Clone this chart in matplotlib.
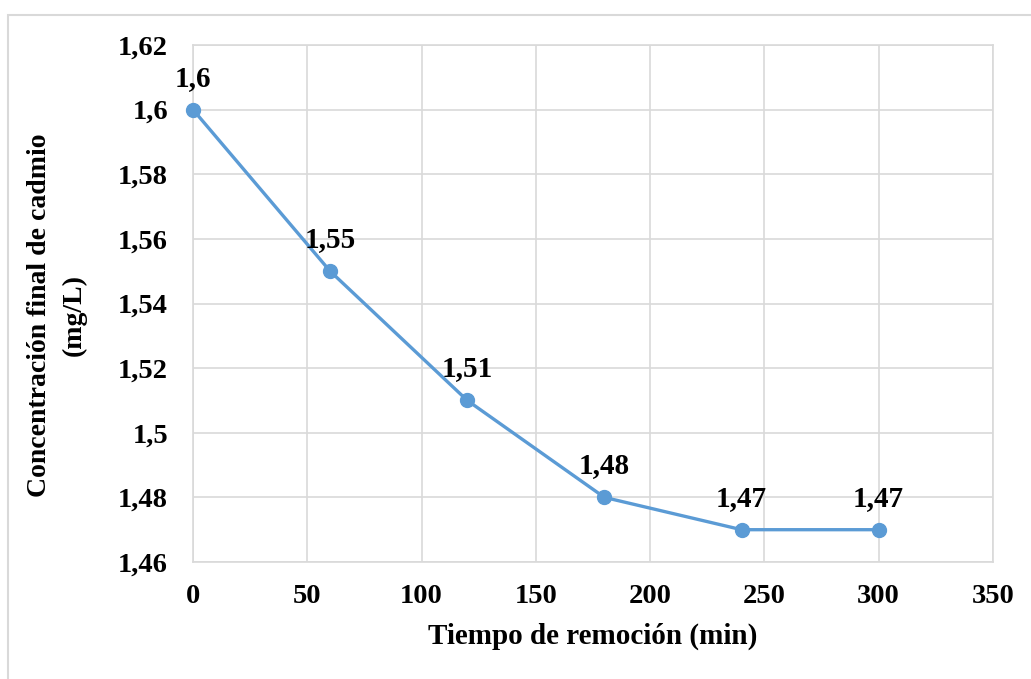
import matplotlib
matplotlib.use("Agg")
import matplotlib.pyplot as plt
from matplotlib.patches import Rectangle

tiempo = [0, 60, 120, 180, 240, 300]
concentracion = [1.60, 1.55, 1.51, 1.48, 1.47, 1.47]
etiquetas = ["1,6", "1,55", "1,51", "1,48", "1,47", "1,47"]
xticks = [0, 50, 100, 150, 200, 250, 300, 350]
yticks = [1.46, 1.48, 1.50, 1.52, 1.54, 1.56, 1.58, 1.60, 1.62]
yticklabels = ["1,46", "1,48", "1,5", "1,52", "1,54", "1,56", "1,58", "1,6", "1,62"]

plt.rcParams["font.family"] = ["Liberation Serif", "DejaVu Serif"]
plt.rcParams["font.weight"] = "bold"

fig = plt.figure(figsize=(10.31, 6.79), dpi=100)
ax = fig.add_axes([0.1872, 0.1723, 0.7759, 0.7614])

# chart-area outline
fig.patches.append(Rectangle((8 / 1031, -0.1), 1.2, (679 - 15) / 679 + 0.1,
                             transform=fig.transFigure, fill=False,
                             edgecolor="#d9d9d9", linewidth=1.5))

blue = "#5B9BD5"
ax.plot(tiempo, concentracion, color=blue, linewidth=2.4, marker="o",
        markersize=10, zorder=3, clip_on=False)

for x, y, t in zip(tiempo, concentracion, etiquetas):
    ax.annotate(t, (x, y), xytext=(0, 13), textcoords="offset points",
                ha="center", va="bottom", fontsize=21, fontweight="bold")

ax.set_xlim(0, 350)
ax.set_ylim(1.46, 1.62)
ax.set_xticks(xticks)
ax.set_xticklabels([str(v) for v in xticks])
ax.set_yticks(yticks)
ax.set_yticklabels(yticklabels)
ax.tick_params(axis="both", length=0, labelsize=20.5)
ax.tick_params(axis="y", pad=18)
ax.tick_params(axis="x", pad=16)
for lab in ax.get_xticklabels() + ax.get_yticklabels():
    lab.set_fontweight("bold")

ax.grid(True, color="#d9d9d9", linewidth=1.2)
ax.set_axisbelow(True)
for s in ax.spines.values():
    s.set_color("#d9d9d9")
    s.set_linewidth(1.2)

ax.set_xlabel("Tiempo de remoción (min)", fontsize=21, fontweight="bold", va="center")
ax.xaxis.set_label_coords(0.5, -0.143)
ax.set_ylabel("Concentración final de cadmio\n(mg/L)", fontsize=20,
              fontweight="bold", linespacing=1.5, va="center")
ax.yaxis.set_label_coords(-0.17, 0.478)

fig.savefig("out.png", dpi=100, facecolor="white")
